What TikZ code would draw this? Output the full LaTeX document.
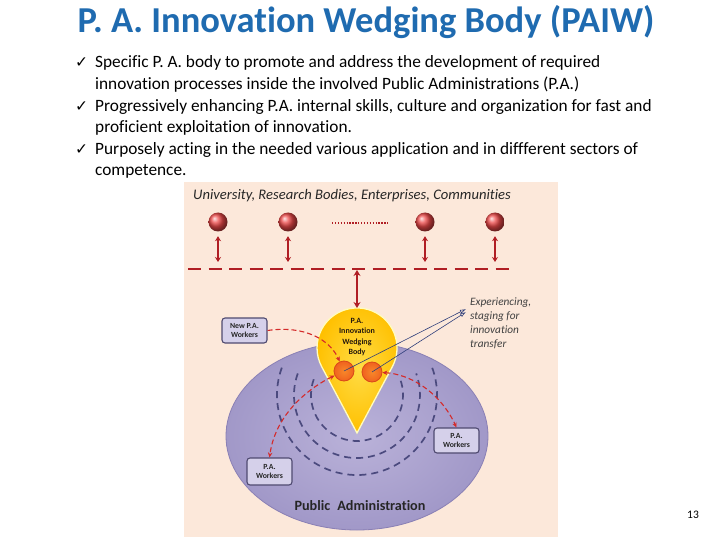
\documentclass[tikz,border=0pt]{standalone}
\usepackage{fontspec}
\setmainfont{Carlito}[Ligatures=NoCommon]
\newfontfamily\djv{DejaVu Sans}
\usetikzlibrary{arrows.meta,shapes.geometric}
\definecolor{titleblue}{HTML}{1F6BB0}
\definecolor{panelbg}{HTML}{FCE8DA}
\definecolor{dred}{HTML}{B01E24}
\definecolor{cred}{HTML}{D42A2A}
\definecolor{ballred}{HTML}{EC4848}
\definecolor{lavL}{HTML}{BAB2D9}
\definecolor{lavD}{HTML}{A198C8}
\definecolor{lavE}{HTML}{8A80B5}
\definecolor{arcblue}{HTML}{4B4A7E}
\definecolor{goldL}{HTML}{FFDC45}
\definecolor{goldD}{HTML}{FFC000}
\definecolor{orangeC}{HTML}{F0621E}
\definecolor{orangeI}{HTML}{F7882A}
\definecolor{orangeE}{HTML}{D9481A}
\definecolor{boxfill}{HTML}{D5D0EA}
\definecolor{boxedge}{HTML}{4F4A70}
\definecolor{navyarr}{HTML}{2F3E7A}
\begin{document}
\begin{tikzpicture}[x=1pt,y=-1pt,
  bullettext/.style={anchor=base west, inner sep=0pt, font=\fontsize{17.3}{20}\selectfont},
  checkmk/.style={anchor=base west, inner sep=0pt, font=\djv\fontsize{15.5}{17}\selectfont},
  ballnode/.style={circle, minimum size=19pt, inner sep=0pt, shading=ball, ball color=ballred},
  dblarrow/.style={draw=dred, line width=1.6pt, {Stealth[length=5pt,width=6pt]}-{Stealth[length=5pt,width=6pt]}},
  pabox/.style={draw=boxedge, fill=boxfill, line width=1.1pt, rounded corners=3pt, minimum width=45pt, minimum height=25pt, inner sep=1pt, align=center, text=black!85, font=\bfseries\fontsize{7.8}{9.5}\selectfont},
  reddash/.style={draw=cred, line width=1.1pt, dash pattern=on 5pt off 3pt},
  redtip/.style={-{Stealth[length=5pt,width=4.5pt]}},
  arcdash/.style={draw=arcblue, line width=1.7pt, dash pattern=on 7pt off 5pt},
  orb/.style={circle, minimum size=20pt, inner sep=0pt, draw=orangeE, line width=0.8pt, inner color=orangeI, outer color=orangeC},
  navyline/.style={draw=navyarr, line width=0.6pt, -{Latex[open,length=6pt,width=4pt]}}
]
\useasboundingbox (0,0) rectangle (720,540);
\fill[white] (0,0) rectangle (720,540);

% title
\node[text=titleblue, font=\bfseries\fontsize{36.5}{40}\selectfont, inner sep=0pt] (title) at (366,22) {P. A. Innovation Wedging Body (PAIW)};

% bullets
\node[checkmk] (ck1) at (75,68) {✓};
\node[bullettext] (l1) at (95,68) {Specific P. A. body to promote and address the development of required};
\node[bullettext] (l2) at (95,90) {innovation processes inside the involved Public Administrations (P.A.)};
\node[checkmk] (ck2) at (75,112) {✓};
\node[bullettext] (l3) at (95,112) {Progressively enhancing P.A. internal skills, culture and organization for fast and};
\node[bullettext] (l4) at (95,133) {proficient exploitation of  innovation.};
\node[checkmk] (ck3) at (75,155) {✓};
\node[bullettext] (l5) at (95,155) {Purposely acting in the needed various application and in diffferent sectors of};
\node[bullettext] (l6) at (95,176) {competence.};

% page number
\node[font=\fontsize{11.5}{13}\selectfont, inner sep=0pt] (pg) at (693,515) {13};

% panel
\fill[panelbg] (184,182) rectangle (558,537);

\node[font=\itshape\fontsize{14.6}{17}\selectfont, text=black!85, inner sep=0pt] (univ) at (352,196) {University, Research Bodies, Enterprises, Communities};

\node[ballnode] (b1) at (218,222) {};
\node[ballnode] (b2) at (288,222) {};
\node[ballnode] (b3) at (425,222) {};
\node[ballnode] (b4) at (495,222) {};
\coordinate (dot1) at (332,223);
\coordinate (dot2) at (388,223);
\draw[dred, line width=1.3pt, dash pattern=on 1.3pt off 1.6pt] (dot1) -- (dot2);

\coordinate (dl1) at (188,269);
\coordinate (dl2) at (516,269);
\draw[dred, line width=2pt, dash pattern=on 13pt off 7.5pt] (dl1) -- (dl2);

\foreach \b in {b1,b2,b3,b4}
  \draw[dblarrow, shorten <=4.5pt, shorten >=7pt] (\b.south) -- (\b.south |- dl1);

% ellipse
\shade[inner color=lavL, outer color=lavD] (357,436) ellipse [x radius=131, y radius=94];
\draw[lavE, line width=0.8pt] (357,436) ellipse [x radius=131, y radius=94];

% dashed arcs
\begin{scope}
\clip (357,436) ellipse [x radius=130, y radius=93];
\draw[arcdash] (357,395) ++(200:80) arc[start angle=200, end angle=-20, radius=80];
\draw[arcdash] (357,395) ++(200:63) arc[start angle=200, end angle=-20, radius=63];
\draw[arcdash] (357,395) ++(200:46) arc[start angle=200, end angle=-20, radius=46];
\end{scope}

% wedge
\shade[inner color=goldL, outer color=goldD]
  (357,433) -- (392.3,366.8) arc[start angle=28.1, end angle=-208.1, radius=40] -- cycle;
\draw[white!75!yellow, line width=1.3pt]
  (357,433) -- (392.3,366.8) arc[start angle=28.1, end angle=-208.1, radius=40] -- cycle;

\node[align=center, font=\bfseries\fontsize{8}{10.3}\selectfont, text=black!80!brown, inner sep=0pt] (wtext) at (357,337) {P.A.\\Innovation\\Wedging\\Body};

% centre arrow
\coordinate (ctop) at (357,270);
\coordinate (wtop) at (357,308);
\draw[draw=dred, line width=2pt, {Stealth[length=6pt,width=7pt]}-{Stealth[length=6pt,width=7pt]}] (ctop) -- (wtop);

% orange circles
\node[orb] (c1) at (344,371) {};
\node[orb] (c2) at (372,372) {};

% boxes
\node[pabox] (npw) at (244.5,330.5) {New P.A.\\Workers};
\node[pabox] (rpw) at (456.5,440.5) {P.A.\\Workers};
\node[pabox, minimum height=27pt] (lpw) at (269.5,471.5) {P.A.\\Workers};

% red dashed curves
\draw[reddash, redtip] (npw.east) .. controls (305,325) and (330,340) .. (c1);
\draw[reddash, {Stealth[length=5pt,width=4.5pt]}-{Stealth[length=5pt,width=4.5pt]}] (c1) .. controls (315,385) and (276,410) .. (lpw.north);
\draw[reddash, {Stealth[length=5pt,width=4.5pt]}-{Stealth[length=5pt,width=4.5pt]}] (c2) .. controls (410,374) and (440,392) .. (rpw.north);

% experiencing text and arrows
\node[anchor=north west, align=left, font=\itshape\fontsize{11.3}{14}\selectfont, text=black!75, inner sep=0pt] (ex) at (470,298) {Experiencing,\\staging for\\innovation\\transfer};
\coordinate (ex1) at (466,309);
\coordinate (ex2) at (466,312);
\draw[navyline] (c1.center) -- (ex1);
\draw[navyline] (c2.center) -- (ex2);

\node[font=\bfseries\fontsize{14.2}{16}\selectfont, text=black!85, inner sep=0pt] (pa) at (360,506) {Public\enspace Administration};
\end{tikzpicture}
\end{document}
